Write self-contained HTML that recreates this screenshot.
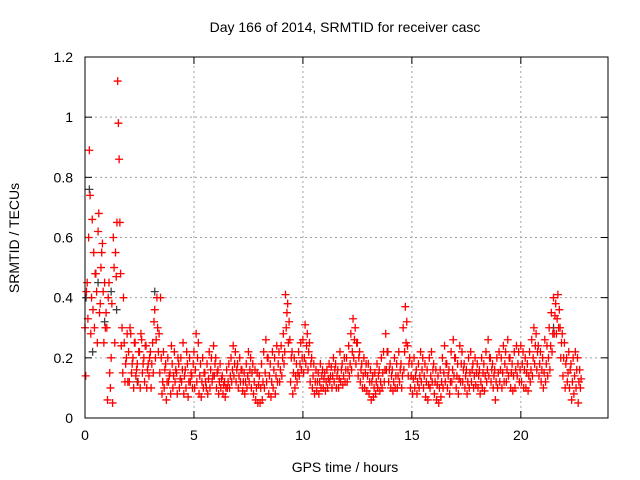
<!DOCTYPE html>
<html><head><meta charset="utf-8"><style>
body{margin:0;background:#fff}
svg{display:block;font-family:"Liberation Sans",sans-serif}
</style></head><body>
<svg id="chart" width="640" height="480">
<text x="345" y="32" font-size="14" text-anchor="middle">Day 166 of 2014, SRMTID for receiver casc</text>
<text x="345" y="472" font-size="14" text-anchor="middle">GPS time / hours</text>
<text transform="translate(19,238) rotate(-90)" font-size="14" text-anchor="middle">SRMTID / TECUs</text>
<g id="grid"></g><g id="ticks"></g><g id="marks"></g>
<rect x="85" y="57" width="523" height="361" fill="none" stroke="#000"/>
</svg>
<script>
const xTicks=[0,5,10,15,20];
const yTicks=[0,0.2,0.4,0.6,0.8,1,1.2];
const yTickLabels=["0","0.2","0.4","0.6","0.8","1","1.2"];
const timeStep=0.1;
const seriesA=[.30,.45,.89,.40,.55,.48,.62,.38,.58,.45, .30,.45,.20,.60,.55,1.12,.65,.30,.25,.20,
.22,.28,.20,.25,.18,.22,.26,.20,.24,.18, .22,.25,.36,.40,.28,.20,.22,.18,.20,.15,
.18,.22,.15,.18,.20,.25,.16,.18,.20,.14, .22,.28,.25,.18,.20,.15,.18,.22,.20,.24,
.20,.16,.18,.14,.12,.16,.18,.20,.24,.22, .18,.20,.16,.15,.18,.22,.20,.18,.16,.15,
.14,.18,.22,.26,.20,.18,.22,.20,.24,.22, .24,.28,.41,.38,.26,.22,.20,.18,.22,.25,
.26,.31,.28,.25,.20,.18,.16,.15,.18,.16, .15,.16,.18,.17,.20,.18,.16,.22,.18,.20,
.20,.24,.28,.33,.30,.25,.22,.18,.20,.18, .18,.16,.14,.15,.18,.16,.20,.22,.28,.22,
.18,.16,.20,.18,.22,.18,.30,.37,.24,.20, .18,.20,.16,.18,.22,.20,.18,.16,.20,.22,
.18,.16,.14,.16,.20,.24,.18,.16,.22,.26, .20,.18,.24,.22,.18,.16,.20,.22,.18,.20,
.18,.16,.20,.18,.22,.26,.20,.18,.16,.20, .22,.20,.24,.22,.26,.20,.18,.22,.24,.22,
.24,.22,.20,.18,.22,.26,.30,.28,.24,.22, .20,.26,.24,.30,.35,.40,.38,.41,.30,.28,
.25,.20,.22,.18,.20,.22,.20,.16];
const seriesB=[.14,.33,.74,.66,.30,.42,.68,.50,.42,.30, .06,.15,.38,.50,.47,.98,.48,.15,.12,.28,
.12,.15,.10,.14,.12,.10,.15,.12,.10,.14, .10,.15,.20,.30,.15,.08,.10,.06,.12,.08,
.10,.12,.08,.10,.12,.08,.10,.07,.12,.10, .10,.12,.08,.07,.10,.12,.08,.10,.12,.14,
.10,.08,.10,.08,.07,.10,.10,.12,.14,.12, .10,.12,.09,.08,.10,.12,.10,.08,.06,.05,
.05,.06,.10,.12,.08,.07,.10,.08,.12,.12, .14,.18,.30,.25,.12,.08,.10,.12,.14,.16,
.15,.18,.16,.12,.10,.08,.09,.08,.10,.10, .09,.10,.12,.10,.12,.10,.10,.12,.11,.12,
.12,.14,.16,.20,.18,.14,.12,.10,.10,.09, .08,.06,.07,.08,.10,.09,.10,.12,.16,.12,
.10,.09,.10,.10,.12,.10,.16,.25,.14,.10, .08,.10,.08,.10,.12,.10,.07,.06,.10,.12,
.08,.06,.05,.07,.10,.12,.10,.08,.12,.14, .10,.08,.12,.12,.10,.08,.10,.12,.10,.11,
.10,.08,.10,.09,.12,.14,.12,.10,.06,.10, .12,.10,.12,.12,.14,.10,.09,.10,.14,.12,
.12,.10,.10,.09,.12,.14,.18,.16,.14,.12, .10,.12,.14,.16,.22,.28,.28,.30,.20,.14,
.10,.12,.10,.06,.08,.10,.05,.10];
const seriesC=[.42,.60,.28,.36,.48,.25,.35,.55,.25,.35, .40,.10,.05,.25,.65,.86,.24,.40,.18,.12,
.30,.18,.25,.16,.22,.28,.18,.24,.16,.20, .18,.32,.26,.22,.40,.12,.16,.12,.14,.24,
.14,.16,.20,.13,.16,.14,.22,.12,.15,.18, .16,.20,.14,.12,.15,.10,.13,.16,.14,.18,
.15,.12,.13,.11,.10,.12,.14,.16,.18,.16, .14,.16,.12,.12,.14,.16,.15,.12,.10,.11,
.10,.12,.15,.20,.14,.12,.16,.14,.18,.16, .20,.22,.35,.32,.20,.15,.14,.15,.18,.20,
.20,.24,.22,.18,.14,.12,.12,.12,.14,.13, .12,.13,.14,.14,.16,.14,.13,.16,.14,.16,
.16,.18,.22,.26,.25,.20,.16,.14,.15,.14, .12,.12,.10,.12,.14,.12,.15,.16,.22,.16,
.14,.12,.14,.14,.16,.14,.22,.32,.18,.14, .13,.14,.12,.14,.16,.14,.12,.11,.14,.16,
.12,.11,.10,.12,.15,.18,.14,.12,.16,.20, .14,.13,.18,.16,.14,.12,.15,.16,.14,.15,
.14,.12,.15,.14,.16,.20,.16,.14,.12,.15, .16,.15,.18,.16,.20,.15,.14,.16,.18,.16,
.18,.16,.15,.14,.16,.20,.24,.22,.18,.16, .15,.18,.20,.24,.28,.34,.33,.36,.25,.20,
.18,.15,.16,.12,.14,.16,.12,.13];
const greyTimes=[0.05,0.2,0.35,0.6,0.9,1.2,1.45,2.4,3.2,21.5];
const greyValues=[0.40,0.76,0.22,0.45,0.32,0.42,0.36,0.12,0.42,0.30];

const NS="http://www.w3.org/2000/svg";
const X0=85,X1=608,Y0=418,Y1=57,XMAX=24,YMAX=1.2;
function xs(t){return X0+(X1-X0)*t/XMAX;}
function ys(v){return Y0-(Y0-Y1)*v/YMAX;}
function mk(tag,attrs,parent){const e=document.createElementNS(NS,tag);for(const k in attrs)e.setAttribute(k,attrs[k]);parent.appendChild(e);return e;}
const grid=document.getElementById('grid'),ticks=document.getElementById('ticks'),marks=document.getElementById('marks');
xTicks.forEach(t=>{const x=xs(t);
 if(t>0){const g=mk('line',{x1:x,x2:x,y1:Y0,y2:Y1,stroke:'#a0a0a0','stroke-dasharray':'2,3'},grid);
 
 }
 mk('line',{x1:x,x2:x,y1:Y0,y2:Y0-7,stroke:'#000'},ticks);
 mk('line',{x1:x,x2:x,y1:Y1,y2:Y1+7,stroke:'#000'},ticks);
 const l=mk('text',{x:x,y:Y0+22,'font-size':14,'text-anchor':'middle'},ticks);l.textContent=t;
 
 });
yTicks.forEach((v,i)=>{const y=ys(v);
 if(v>0&&v<YMAX){const g=mk('line',{x1:X0,x2:X1,y1:y,y2:y,stroke:'#a0a0a0','stroke-dasharray':'2,3'},grid);
 
 }
 mk('line',{x1:X0,x2:X0+7,y1:y,y2:y,stroke:'#000'},ticks);
 mk('line',{x1:X1,x2:X1-7,y1:y,y2:y,stroke:'#000'},ticks);
 const l=mk('text',{x:X0-12,y:y+5,'font-size':14,'text-anchor':'end'},ticks);l.textContent=yTickLabels[i];
 
 });
function plus(t,v,col,name){const x=xs(t),y=ys(v);
 const p=mk('path',{d:`M${x-4},${y}h8M${x},${y-4}v8`,stroke:col,'stroke-width':1.3,fill:'none'},marks);
 
 }
greyTimes.forEach((t,i)=>plus(t,greyValues[i],'#404040','grey-point'));
[[seriesA,0],[seriesB,0.033],[seriesC,0.066]].forEach(([arr,off])=>{
 arr.forEach((v,i)=>plus(i*timeStep+off,v,'#ff0000','srmtid-point'));});
</script>
</body></html>
